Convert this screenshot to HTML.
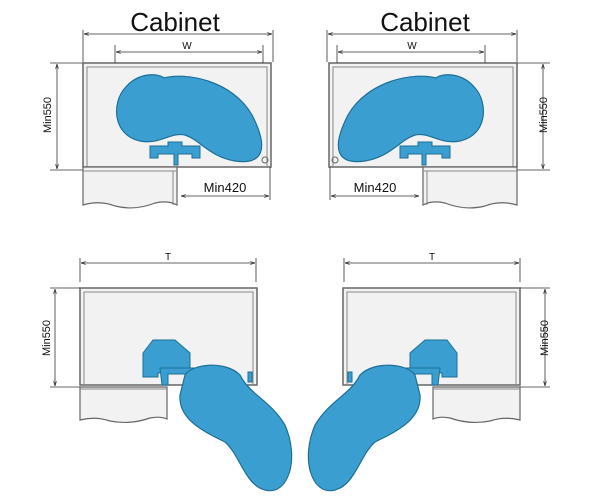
<!DOCTYPE html>
<html><head><style>body{margin:0;background:#fff}svg{display:block}</style></head><body>
<svg width="600" height="500" viewBox="0 0 600 500" xmlns="http://www.w3.org/2000/svg" font-family="Liberation Sans, sans-serif">
<defs>
<marker id="a" viewBox="0 0 10 10" refX="10" refY="5" markerWidth="6" markerHeight="6" orient="auto-start-reverse"><path d="M0,2 L10,5 L0,8" fill="none" stroke="#333" stroke-width="1.5"/></marker>
<g id="top">
<rect x="83" y="63" width="188" height="104" fill="#f2f2f2" stroke="#666" stroke-width="1.5"/>
<path d="M87,167 V67 H267 V167" fill="none" stroke="#888"/>
<path d="M83,167 V205 Q100,200 115,206 Q135,211 155,203 Q168,200 177,205 V167 Z" fill="#f2f2f2" stroke="#666" stroke-width="1.2"/>
<line x1="83" y1="171" x2="177" y2="171" stroke="#888"/>
<line x1="173" y1="171" x2="173" y2="205" stroke="#888"/>
<g stroke="#333" stroke-width="0.8" fill="none">
<line x1="83" y1="30" x2="83" y2="62"/><line x1="273" y1="30" x2="273" y2="62"/>
<line x1="84" y1="34" x2="272" y2="34" marker-start="url(#a)" marker-end="url(#a)"/>
<line x1="115" y1="45" x2="115" y2="63"/><line x1="263" y1="45" x2="263" y2="63"/>
<line x1="116" y1="52" x2="262" y2="52" marker-start="url(#a)" marker-end="url(#a)"/>
<line x1="50" y1="63" x2="83" y2="63"/><line x1="50" y1="170" x2="83" y2="170"/>
<line x1="57" y1="64" x2="57" y2="169" marker-start="url(#a)" marker-end="url(#a)"/>
<line x1="270" y1="167" x2="270" y2="200"/>
<line x1="181" y1="196" x2="269" y2="196" marker-start="url(#a)" marker-end="url(#a)"/>
</g>
<path d="M125,88 C138,72 158,73 164,78 C185,72 232,80 252,115 C270,150 262,165 235,161 C210,157 200,140 185,135 C170,132 160,145 140,141 C112,135 112,102 125,88 Z" fill="#3a9fd0" stroke="#1c6f98" stroke-width="1.2"/>
<path d="M150,158 V146 H168 V142 H182 V146 H200 V158 H192 V154 H178 V165 H174 V154 H158 V158 Z" fill="#3a9fd0" stroke="#1c6f98"/>
<circle cx="265" cy="160" r="3" fill="none" stroke="#666"/>
</g>
<g id="bot">
<rect x="80" y="288" width="177" height="97" fill="#f2f2f2" stroke="#666" stroke-width="1.5"/>
<path d="M84,385 V292 H253 V385" fill="none" stroke="#888"/>
<path d="M80,387 V420 Q95,416 110,421 Q130,425 150,418 Q160,416 167,419 V387 Z" fill="#f2f2f2" stroke="#666" stroke-width="1.2"/>
<line x1="80" y1="389" x2="167" y2="389" stroke="#888"/>
<g stroke="#333" stroke-width="0.8" fill="none">
<line x1="80" y1="258" x2="80" y2="282"/><line x1="256" y1="258" x2="256" y2="282"/>
<line x1="81" y1="263" x2="255" y2="263" marker-start="url(#a)" marker-end="url(#a)"/>
<line x1="50" y1="288" x2="80" y2="288"/><line x1="50" y1="387" x2="80" y2="387"/>
<line x1="55" y1="289" x2="55" y2="386" marker-start="url(#a)" marker-end="url(#a)"/>
</g>
<path d="M143,353 L153,340 H175 L190,353 V373 H158 V377 H143 Z" fill="#3a9fd0" stroke="#1c6f98"/>
<path d="M160,368 H200 V374 H168 V385 H162 Z" fill="#3a9fd0" stroke="#1c6f98"/>
<rect x="248" y="372" width="4" height="10" fill="#3a9fd0" stroke="#1c6f98"/>
<path d="M185,375 C192,364 225,360 240,375 C250,395 270,400 285,425 C300,460 288,496 265,490 C245,485 240,455 225,442 C205,432 178,420 180,395 Z" fill="#3a9fd0" stroke="#1c6f98" stroke-width="1.2"/>
</g>
</defs>
<use href="#top"/>
<use href="#top" transform="translate(600,0) scale(-1,1)"/>
<use href="#bot"/>
<use href="#bot" transform="translate(600,0) scale(-1,1)"/>
<g fill="#111">
<text x="175" y="31" font-size="26" text-anchor="middle">Cabinet</text>
<text x="425" y="31" font-size="26" text-anchor="middle">Cabinet</text>
<text x="187" y="49" font-size="10" text-anchor="middle">W</text>
<text x="412" y="49" font-size="10" text-anchor="middle">W</text>
<text x="225" y="192" font-size="13" text-anchor="middle">Min420</text>
<text x="375" y="192" font-size="13" text-anchor="middle">Min420</text>
<text x="168" y="260" font-size="10" text-anchor="middle">T</text>
<text x="432" y="260" font-size="10" text-anchor="middle">T</text>
<text font-size="11" text-anchor="middle" transform="translate(51,115) rotate(-90)">Min550</text>
<text font-size="11" text-anchor="middle" transform="translate(547,115) rotate(-90)">Min550</text>
<text font-size="11" text-anchor="middle" transform="translate(50,338) rotate(-90)">Min550</text>
<text font-size="11" text-anchor="middle" transform="translate(548,338) rotate(-90)">Min550</text>
</g>
</svg>
</body></html>
